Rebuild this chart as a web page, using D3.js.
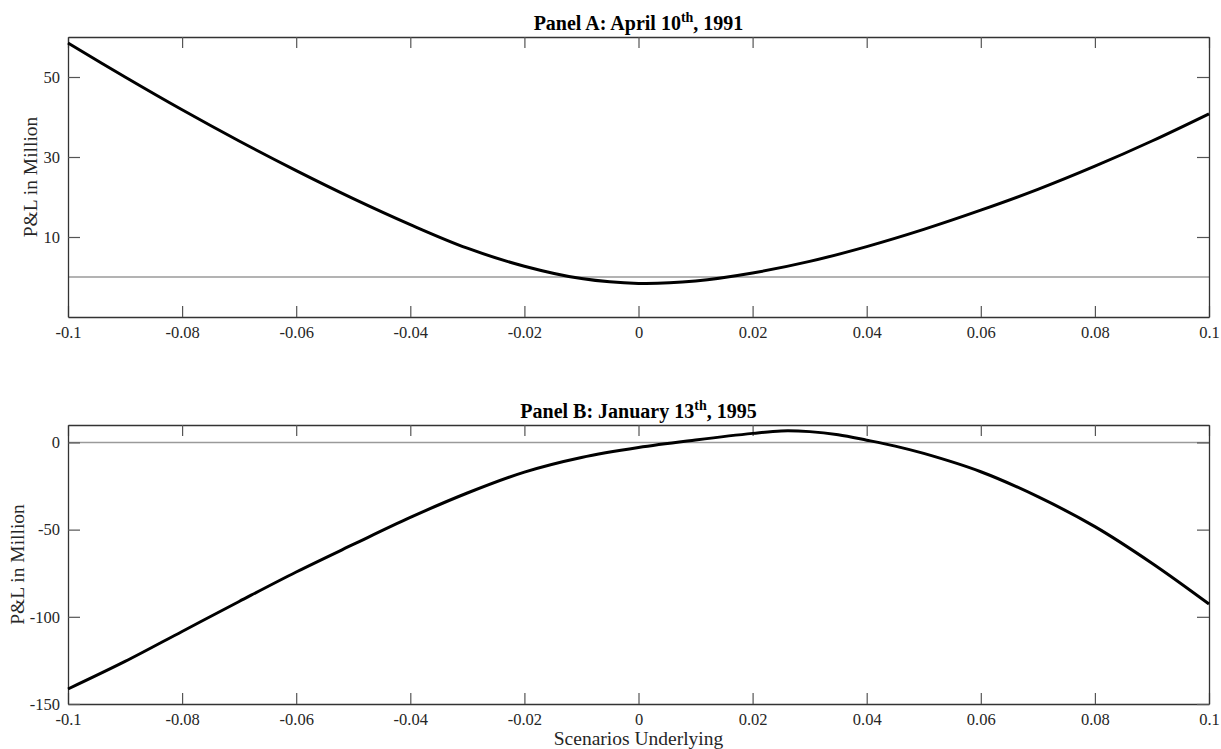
<!DOCTYPE html>
<html>
  <head>
    <title>P&amp;L scenarios</title>
    <script src="https://d3js.org/d3.v7.min.js"></script>
    <style type="text/css">
      body {
        margin: 0;
        background: #ffffff;
      }

      .tick text {
        font-family: 'Liberation Serif', serif;
        font-size: 16.5px;
        fill: #262626;
      }

      .title {
        font-family: 'Liberation Serif', serif;
        font-weight: bold;
        font-size: 20px;
        fill: #000;
      }

      .label {
        font-family: 'Liberation Serif', serif;
        font-size: 19.5px;
        fill: #262626;
      }
    </style>
  </head>

  <body>
    <div class="chart"></div>
    <script type="text/javascript">
      // scenario moves of the underlying
      var xTicks = [-0.1, -0.08, -0.06, -0.04, -0.02, 0, 0.02, 0.04, 0.06, 0.08, 0.1];

      // Panel A: April 10th, 1991
      var scenA = [-0.1, -0.09, -0.08, -0.07, -0.06, -0.05, -0.04, -0.03, -0.02, -0.01, 0, 0.01, 0.02, 0.03, 0.04, 0.05, 0.06, 0.07, 0.08, 0.09, 0.1];
      var pnlA = [58.5, 50.0, 41.8, 34.0, 26.6, 19.6, 13.1, 7.2, 2.7, -0.4, -1.6, -1.0, 1.0, 3.9, 7.6, 11.9, 16.7, 21.9, 27.7, 34.0, 40.8];
      var yTicksA = [10, 30, 50];

      // Panel B: January 13th, 1995
      var scenB = [-0.1, -0.09, -0.08, -0.07, -0.06, -0.05, -0.04, -0.03, -0.02, -0.01, 0, 0.01, 0.02, 0.025, 0.03, 0.035, 0.04, 0.045, 0.05, 0.06, 0.07, 0.08, 0.09, 0.1];
      var pnlB = [-141.4, -125.6, -108.4, -91.2, -74.3, -58.5, -43.0, -29.0, -17.0, -8.6, -2.9, 1.4, 5.2, 6.6, 6.2, 4.4, 1.3, -2.1, -6.3, -16.8, -31.1, -48.3, -69.3, -92.7];
      var yTicksB = [-150, -100, -50, 0];

      var width = 1221;
      var height = 749;

      var svg = d3.select('.chart').append('svg')
        .attr('width', width)
        .attr('height', height);

      function drawPanel (opts) {
        var x = d3.scaleLinear().domain([-0.1, 0.1]).range([68, 1209]);
        var y = d3.scaleLinear().domain(opts.yDomain).range([opts.bottom, opts.top]);
        var g = svg.append('g');
        var fmt = function(d){ return String(d); };

        // zero reference line
        g.append('line')
          .attr('x1', x(-0.1)).attr('x2', x(0.1))
          .attr('y1', y(0)).attr('y2', y(0))
          .attr('stroke', '#9a9a9a')
          .attr('stroke-width', 1.5);

        var bottomAxis = g.append('g')
          .attr('transform', 'translate(0,' + opts.bottom + ')')
          .call(d3.axisBottom(x).tickValues(xTicks).tickFormat(fmt).tickSize(-11).tickSizeOuter(0).tickPadding(9));
        var topAxis = g.append('g')
          .attr('transform', 'translate(0,' + opts.top + ')')
          .call(d3.axisTop(x).tickValues(xTicks).tickFormat('').tickSize(-11).tickSizeOuter(0));
        var leftAxis = g.append('g')
          .attr('transform', 'translate(' + x(-0.1) + ',0)')
          .call(d3.axisLeft(y).tickValues(opts.yTicks).tickFormat(fmt).tickSize(-12).tickSizeOuter(0).tickPadding(8));
        var rightAxis = g.append('g')
          .attr('transform', 'translate(' + x(0.1) + ',0)')
          .call(d3.axisRight(y).tickValues(opts.yTicks).tickFormat('').tickSize(-12).tickSizeOuter(0));

        [bottomAxis, topAxis, leftAxis, rightAxis].forEach(function(a){
          a.select('.domain').attr('stroke', '#333').attr('stroke-width', 1.3);
          a.selectAll('.tick line').attr('stroke', '#555').attr('stroke-width', 1.2);
        });

        var data = opts.xs.map(function(d, i){ return [d, opts.ys[i]]; });
        var line = d3.line()
          .x(function(d){ return x(d[0]); })
          .y(function(d){ return y(d[1]); })
          .curve(d3.curveCatmullRom.alpha(0.5));

        g.append('path')
          .datum(data)
          .attr('d', line)
          .attr('fill', 'none')
          .attr('stroke', '#000')
          .attr('stroke-width', 3);

        // title with superscript
        var t = g.append('text')
          .attr('class', 'title')
          .attr('x', (x(-0.1) + x(0.1)) / 2)
          .attr('y', opts.top - 7)
          .attr('text-anchor', 'middle');
        t.append('tspan').text(opts.title[0]);
        t.append('tspan').attr('dy', -8).style('font-size', '14px').text(opts.title[1]);
        t.append('tspan').attr('dy', 8).text(opts.title[2]);

        g.append('text')
          .attr('class', 'label')
          .attr('transform', 'translate(' + opts.labelX + ',' + ((opts.top + opts.bottom) / 2) + ') rotate(-90)')
          .attr('text-anchor', 'middle')
          .text('P&L in Million');

        return x;
      }

      drawPanel({
        xs: scenA, ys: pnlA, yDomain: [-10, 60], yTicks: yTicksA,
        top: 37, bottom: 317, labelX: 37,
        title: ['Panel A: April 10', 'th', ', 1991']
      });

      var xB = drawPanel({
        xs: scenB, ys: pnlB, yDomain: [-150, 10], yTicks: yTicksB,
        top: 425, bottom: 704, labelX: 24,
        title: ['Panel B: January 13', 'th', ', 1995']
      });

      svg.append('text')
        .attr('class', 'label')
        .attr('x', (xB(-0.1) + xB(0.1)) / 2)
        .attr('y', 745)
        .attr('text-anchor', 'middle')
        .text('Scenarios Underlying');
    </script>
  </body>
</html>
